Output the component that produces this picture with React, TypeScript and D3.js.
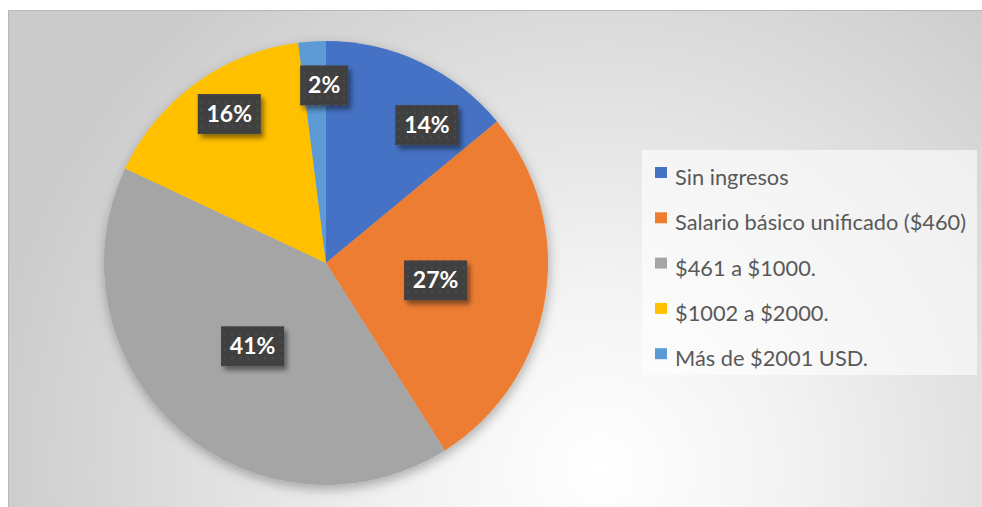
import React from 'react';
import * as d3 from 'd3';

const categories = [
  'Sin ingresos',
  'Salario básico unificado ($460)',
  '$461 a $1000.',
  '$1002 a $2000.',
  'Más de $2001 USD.'
];
const percents = [14, 27, 41, 16, 2];
const colors = ['#4472C4', '#ED7D31', '#A5A5A5', '#FFC000', '#5B9BD5'];

// label placement (Excel "best fit"): radius factor and angle nudge in degrees
const labelRadius = [0.77, 0.5, 0.5, 0.8, 0.8];
const labelNudge = [11, 0, 0, 3, 3];

const WIDTH = 982;
const HEIGHT = 507;
const CX = 326;
const CY = 263;
const R = 222;
const LEGEND = { x: 642, y: 150, w: 335, h: 225, row: 45.3, first: 185 };

export default function App() {
  const pie = d3.pie<number>().sort(null).value(d => d);
  const arcs = pie(percents);
  const arc = d3.arc<d3.PieArcDatum<number>>().innerRadius(0).outerRadius(R);

  const labels = arcs.map((a, i) => {
    const mid = (a.startAngle + a.endAngle) / 2 + (labelNudge[i] * Math.PI) / 180;
    const r = R * labelRadius[i];
    const text = percents[i] + '%';
    return { x: CX + r * Math.sin(mid), y: CY - r * Math.cos(mid), text, w: 15 * text.length + 18 };
  });

  return (
    <svg width={WIDTH} height={HEIGHT} style={{ position: 'absolute', left: 0, top: 0, display: 'block' }}>
      <defs>
        <radialGradient id="bg" gradientUnits="userSpaceOnUse" cx={600} cy={470} r={620}>
          <stop offset="0" stopColor="#ffffff" />
          <stop offset="0.3" stopColor="#f3f3f3" />
          <stop offset="1" stopColor="#cbcbcb" />
        </radialGradient>
        <pattern id="dots" width={8} height={8} patternUnits="userSpaceOnUse">
          <rect width={8} height={8} fill="#404040" />
          <circle cx={4} cy={4} r={1.2} fill="#4c4c4c" />
        </pattern>
        <filter id="pieShadow" x="-20%" y="-20%" width="140%" height="140%">
          <feDropShadow dx={1} dy={4} stdDeviation={6} floodColor="#000" floodOpacity={0.3} />
        </filter>
        <filter id="boxShadow" x="-30%" y="-30%" width="160%" height="160%">
          <feDropShadow dx={3} dy={4} stdDeviation={2.5} floodColor="#000" floodOpacity={0.45} />
        </filter>
      </defs>

      <rect x={8} y={10} width={WIDTH - 8} height={HEIGHT - 10} fill="url(#bg)" />
      <path d={`M8.5,${HEIGHT}V10.5H${WIDTH}`} fill="none" stroke="#b8b8b8" strokeWidth={1} />

      <g transform={`translate(${CX},${CY})`} filter="url(#pieShadow)">
        {arcs.map((a, i) => (
          <path key={i} d={arc(a) || ''} fill={colors[i]} />
        ))}
      </g>

      {labels.map((l, i) => (
        <g key={i} transform={`translate(${l.x},${l.y})`}>
          <rect x={-l.w / 2} y={-20} width={l.w} height={40} fill="url(#dots)" filter="url(#boxShadow)" />
          <text
            y={8}
            textAnchor="middle"
            fill="#ffffff"
            fontFamily="Lato, 'Open Sans', sans-serif"
            fontWeight="bold"
            fontSize={23}
          >
            {l.text}
          </text>
        </g>
      ))}

      <rect x={LEGEND.x} y={LEGEND.y} width={LEGEND.w} height={LEGEND.h} fill="#ffffff" fillOpacity={0.6} />
      {categories.map((c, i) => {
        const base = LEGEND.first + i * LEGEND.row;
        return (
          <g key={c}>
            <rect x={655} y={base - 18} width={12} height={11} fill={colors[i]} />
            <text x={675} y={base} fill="#595959" fontFamily="Lato, 'Open Sans', sans-serif" fontSize={21.8}>
              {c}
            </text>
          </g>
        );
      })}
    </svg>
  );
}
